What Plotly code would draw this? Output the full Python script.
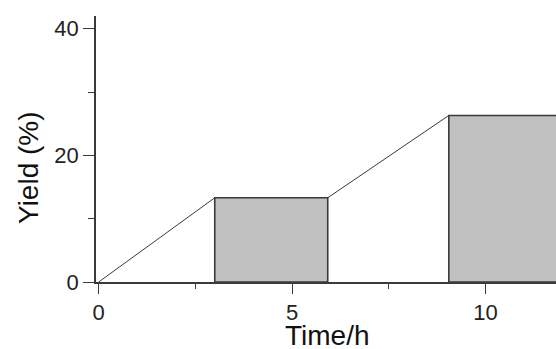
import plotly.graph_objects as go

# Data
ramp1_time = [0, 3]
ramp1_yield = [0, 13.3]
hold1_time = [3, 5.92]
hold1_yield = 13.3
ramp2_time = [5.92, 9.05]
ramp2_yield = [13.3, 26.3]
hold2_time = [9.05, 12.5]
hold2_yield = 26.3

x_ticks = [0, 5, 10]
y_ticks = [0, 20, 40]

line_col = "#3a3a3a"
fill_col = "#c0c0c0"

fig = go.Figure()

def box(t, h):
    return go.Scatter(
        x=[t[0], t[0], t[1], t[1], t[0]],
        y=[0, h, h, 0, 0],
        mode="lines", fill="toself", fillcolor=fill_col,
        line=dict(color=line_col, width=1.6), hoverinfo="skip", showlegend=False,
    )

fig.add_trace(go.Scatter(x=ramp1_time, y=ramp1_yield, mode="lines",
                         line=dict(color=line_col, width=1), showlegend=False))
fig.add_trace(box(hold1_time, hold1_yield))
fig.add_trace(go.Scatter(x=ramp2_time, y=ramp2_yield, mode="lines",
                         line=dict(color=line_col, width=1), showlegend=False))
fig.add_trace(box(hold2_time, hold2_yield))

font_family = "Liberation Sans, Arial, sans-serif"

fig.update_layout(
    width=556, height=349,
    margin=dict(l=96, r=0, t=16, b=67, autoexpand=False),
    paper_bgcolor="white", plot_bgcolor="white",
    font=dict(family=font_family, color="#222222"),
    showlegend=False,
    xaxis=dict(
        range=[-0.07, 11.82], showgrid=False, zeroline=False, automargin=False,
        showline=True, linecolor=line_col, linewidth=1.5,
        tickmode="array", tickvals=x_ticks, ticktext=[str(v) for v in x_ticks],
        ticks="outside", ticklen=10, tickwidth=1.3, tickcolor=line_col,
        tickfont=dict(size=22, family=font_family, color="#222222"),
        minor=dict(dtick=2.5, tick0=0, ticks="outside", ticklen=5, tickwidth=1.3, tickcolor=line_col),
    ),
    yaxis=dict(
        range=[0, 42], showgrid=False, zeroline=False, automargin=False,
        showline=True, linecolor=line_col, linewidth=1.5,
        tickmode="array", tickvals=y_ticks, ticktext=[str(v) for v in y_ticks],
        ticks="outside", ticklen=11, tickwidth=1.3, tickcolor=line_col,
        tickfont=dict(size=22, family=font_family, color="#222222"),
        minor=dict(dtick=10, tick0=0, ticks="outside", ticklen=6, tickwidth=1.3, tickcolor=line_col),
    ),
    annotations=[
        dict(text="Time/h", xref="paper", yref="paper", x=(327 - 96) / 460, y=-(335 - 282) / 266,
             xanchor="center", yanchor="middle", showarrow=False,
             font=dict(size=28, family=font_family, color="#111111")),
        dict(text="Yield (%)", xref="paper", yref="paper", x=-(96 - 28) / 460, y=(282 - 168) / 266,
             xanchor="center", yanchor="middle", showarrow=False, textangle=-90,
             font=dict(size=28, family=font_family, color="#111111")),
    ],
)

fig.write_html(
    "out.html",
    config={"displayModeBar": False},
    post_script="document.body.style.margin='0';document.body.style.overflow='hidden';",
)
